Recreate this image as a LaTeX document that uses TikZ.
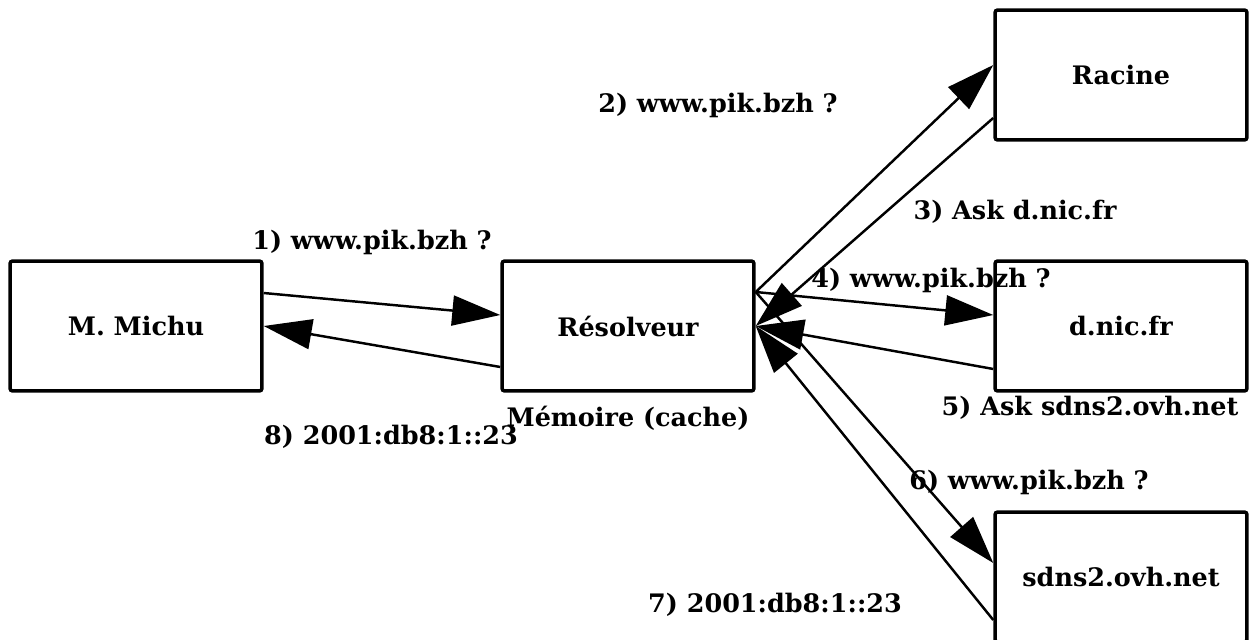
\documentclass[tikz,border=0pt]{standalone}
\usepackage{fontspec}
\setmainfont{DejaVu Serif}
\usetikzlibrary{arrows.meta}
\tikzset{
  box/.style={draw, line width=2pt, rounded corners=1.5pt, minimum width=5.04cm, minimum height=2.6cm, font=\bfseries\fontsize{14.5}{17}\selectfont},
  msg/.style={line width=1.4pt, -{Triangle[length=0.96cm,width=0.6cm]}},
  lbl/.style={font=\bfseries\fontsize{14.5}{17}\selectfont}
}
\begin{document}
\begin{tikzpicture}[x=0.02cm, y=-0.02cm]
  \useasboundingbox (0,0) rectangle (1254,639);
  % boxes
  \node[box] (michu) at (136,326) {M. Michu};
  \node[box] (resolveur) at (628,326) {Résolveur};
  \node[box] (racine) at (1121,75) {Racine};
  \node[box] (dnic) at (1121,326) {d.nic.fr};
  \node[box] (sdns) at (1121,577) {sdns2.ovh.net};
  % questions
  \draw[msg] ([yshift=0.66cm]michu.east) -- ([yshift=0.22cm]resolveur.west);
  \draw[msg] ([yshift=0.68cm]resolveur.east) -- ([yshift=0.2cm]racine.west);
  \draw[msg] ([yshift=0.68cm]resolveur.east) -- ([yshift=0.22cm]dnic.west);
  \draw[msg] ([yshift=0.68cm]resolveur.east) -- ([yshift=0.28cm]sdns.west);
  % answers
  \draw[msg] ([yshift=-0.86cm]racine.west) -- (resolveur.east);
  \draw[msg] ([yshift=-0.86cm]dnic.west) -- (resolveur.east);
  \draw[msg] ([yshift=-0.86cm]sdns.west) -- (resolveur.east);
  \draw[msg] ([yshift=-0.82cm]resolveur.west) -- (michu.east);
  % labels
  \node[lbl] (q1) at (372,242) {1) www.pik.bzh ?};
  \node[lbl] (q2) at (718,105) {2) www.pik.bzh ?};
  \node[lbl] (r3) at (1015,212) {3) Ask d.nic.fr};
  \node[lbl] (q4) at (931,280) {4) www.pik.bzh ?};
  \node[lbl] (r5) at (1090,408) {5) Ask sdns2.ovh.net};
  \node[lbl] (q6) at (1029,482) {6) www.pik.bzh ?};
  \node[lbl] (r7) at (775,605) {7) 2001:db8:1::23};
  \node[lbl] (r8) at (391,437) {8) 2001:db8:1::23};
  \node[lbl] (cache) at (628,418) {Mémoire (cache)};
\end{tikzpicture}
\end{document}
